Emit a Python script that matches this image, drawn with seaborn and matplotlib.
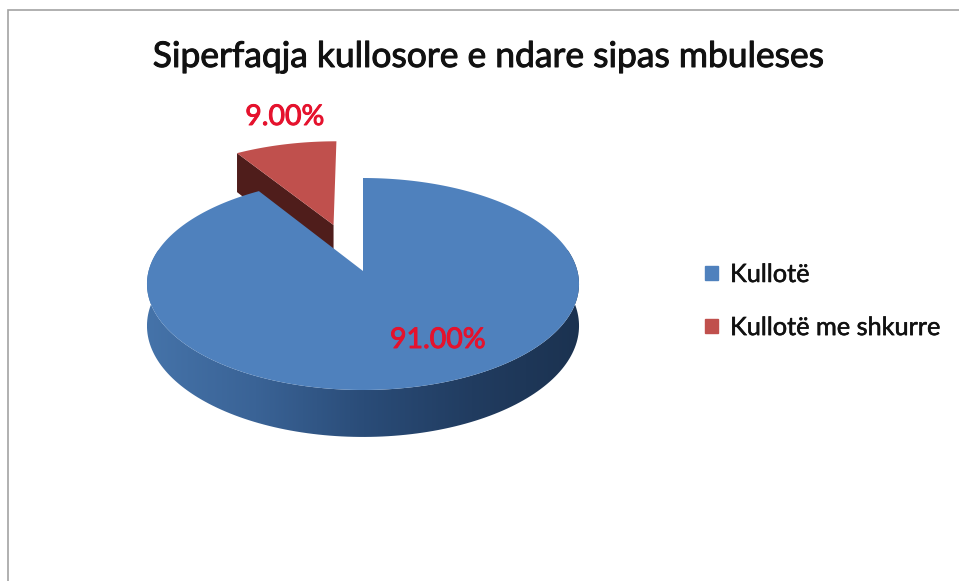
import numpy as np
import matplotlib
matplotlib.use("Agg")
import matplotlib.pyplot as plt
import matplotlib.patheffects as pe
from matplotlib.colors import LinearSegmentedColormap
from matplotlib.patches import Patch, Polygon
import seaborn as sns

# values
categories = ["Kullotë", "Kullotë me shkurre"]
shares = [91.0, 9.0]
title = "Siperfaqja kullosore e ndare sipas mbuleses"

sns.set_theme(style="white")
plt.rcParams["font.family"] = ["Lato", "DejaVu Sans"]
palette = sns.color_palette(["#4f81bd", "#c0504d"])

# perspective used for the 3d look, everything in image pixels
APEX_X, APEX_Y = 363, 271
SCALE_X, SCALE_Y, TILT = 214.4, 104.4, 0.1226
DEPTH = 41.2


def project(u, v, drop=0.0):
    w = 1 + TILT * v
    return APEX_X + SCALE_X * u / w, APEX_Y - (SCALE_Y * v - drop) / w


def wedge_outline(wedge):
    cx, cy = wedge.center
    t = np.radians(np.linspace(wedge.theta1, wedge.theta2, 240))
    u = np.r_[cx, cx + wedge.r * np.cos(t)]
    v = np.r_[cy, cy + wedge.r * np.sin(t)]
    return u, v


def thicken(color, width):
    return [pe.withStroke(linewidth=width, foreground=color)]


fig = plt.figure(figsize=(9.59, 5.81), dpi=100)
ax = fig.add_axes([0, 0, 1, 1])

# the pie works out the angles, then it gets redrawn in perspective
wedges, _ = ax.pie(shares, explode=[0, 0.485], startangle=90, counterclock=False, colors=palette)
for w in wedges:
    w.set_visible(False)
blue, red = wedges

# cut side of the pulled out slice, from the apex to the far left corner
u, v = wedge_outline(red)
x_top, y_top = project(u, v)
x_low, y_low = project(u, v, DEPTH + 4)
x_top, x_low = x_top - 2, x_low - 2
ax.fill([x_top[0], x_top[-1], x_low[-1], x_low[0]], [y_top[0], y_top[-1], y_low[-1], y_low[0]],
        color="#4f1d1b", lw=0)
ax.fill(x_top, y_top, color=palette[1], lw=0)

# outer wall of the big slice, shaded from left to right
u, v = wedge_outline(blue)
keep = v[1:] < 0.3
x_top, y_top = project(u[1:][keep], v[1:][keep])
x_low, y_low = project(u[1:][keep], v[1:][keep], DEPTH)
wall = Polygon(np.c_[np.r_[x_top, x_low[::-1]], np.r_[y_top, y_low[::-1]]],
               closed=True, transform=ax.transData, facecolor="none", edgecolor="none")
ax.add_patch(wall)
shade = LinearSegmentedColormap.from_list("wall", ["#4573a9", "#3a6396", "#2a4c78", "#213c60", "#1b3250"])
img = ax.imshow(np.linspace(0, 1, 256)[None, :], cmap=shade, extent=(147, 581, 445, 250), aspect="auto", zorder=1.5)
img.set_clip_path(wall)

x_face, y_face = project(u, v)
ax.fill(x_face, y_face, color=palette[0], lw=0, zorder=2)

ax.set_aspect("auto")
ax.set_xlim(0, 959)
ax.set_ylim(581, 0)
ax.axis("off")

# labels
label_pos = [(438, 340), (285, 117)]
for share, (lx, ly) in zip(shares, label_pos):
    ax.text(lx, ly, f"{share:.2f}%", color="#e5122d", fontsize=20.5, ha="center", va="center",
            zorder=3, path_effects=thicken("#e5122d", 0.7))

ax.text(488, 57, title, fontsize=25.5, color="#111111", ha="center", va="center",
        path_effects=thicken("#111111", 0.7))

handles = [Patch(color=c) for c in palette]
leg = ax.legend(handles, categories, loc="upper left", bbox_to_anchor=(705 / 959, 1 - 263 / 581),
                frameon=False, fontsize=18.2, handlelength=0.52, handleheight=0.52, handletextpad=0.47,
                labelspacing=1.19, borderaxespad=0, borderpad=0, labelcolor="#111111")
for t in leg.get_texts():
    t.set_path_effects(thicken("#111111", 0.4))

# chart border, only top and left are inside the crop
ax.plot([8, 8, 959], [581, 10, 10], color="#a3a3a3", lw=1.2, solid_joinstyle="miter", zorder=1)

fig.savefig("out.png", dpi=100, facecolor="white")
